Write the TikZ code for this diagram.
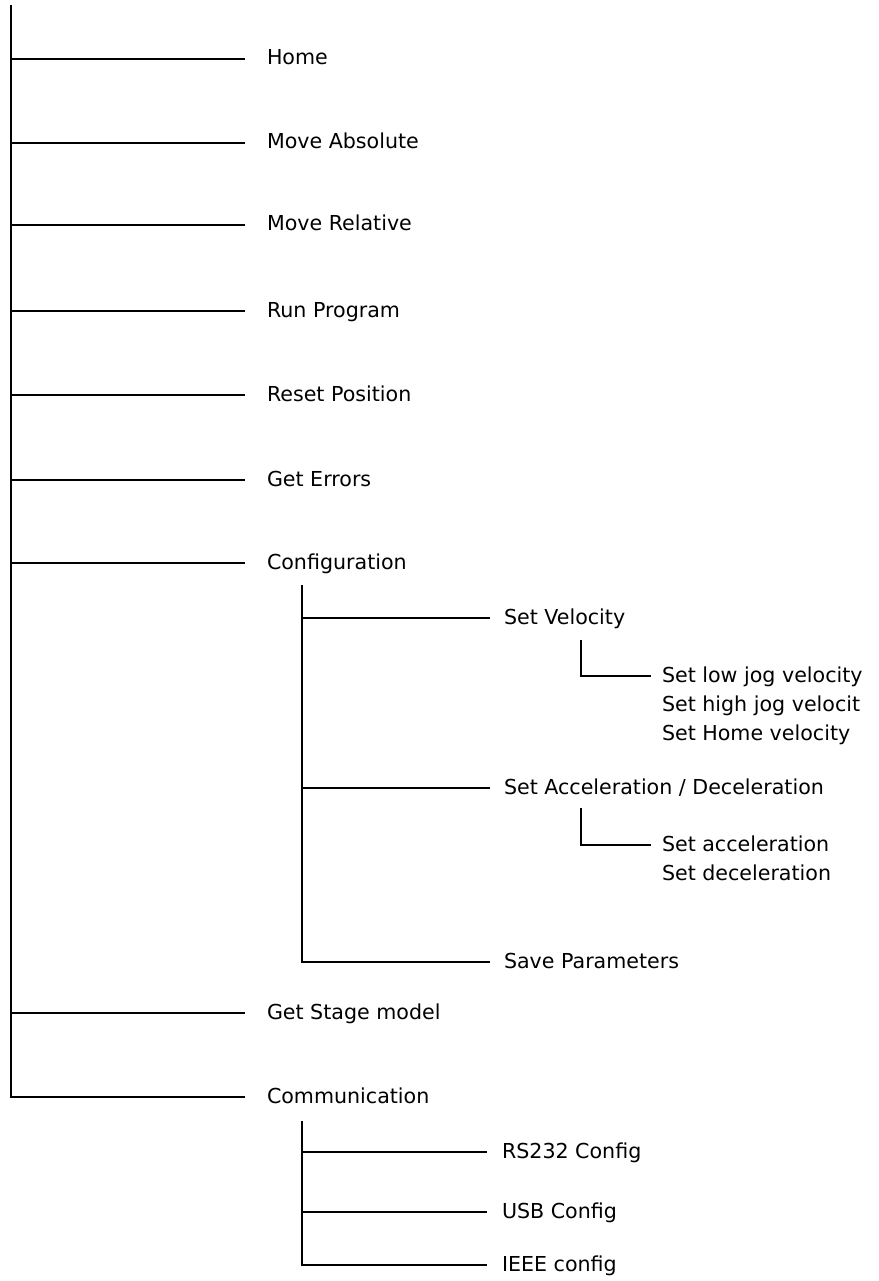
\documentclass[tikz,border=0pt]{standalone}
\usepackage{fontspec}
\setmainfont{DejaVu Sans}
\begin{document}
\begin{tikzpicture}[x=1pt,y=-1pt,
  conn/.style={line width=1.9pt,black},
  lbl/.style={anchor=west,inner sep=0pt,outer sep=0pt,text height=15pt,text depth=3pt,
    font=\fontsize{20.6pt}{28pt}\selectfont}]
\useasboundingbox (0,0) rectangle (878,1281);
\clip (0,0) rectangle (878,1281);
% trunk
\coordinate (T) at (11,5);
\node[lbl] (home) at (267,59) {Home};
\node[lbl] (mabs) at (267,143) {Move Absolute};
\node[lbl] (mrel) at (267,225) {Move Relative};
\node[lbl] (run) at (267,311) {Run Program};
\node[lbl] (reset) at (267,395) {Reset Position};
\node[lbl] (err) at (267,480) {Get Errors};
\node[lbl] (conf) at (267,563) {Configuration};
\node[lbl] (stage) at (267,1013) {Get Stage model};
\node[lbl] (comm) at (267,1097) {Communication};
\draw[conn] (T) -- (T |- comm.west) -- ([xshift=-22pt]comm.west);
\foreach \n in {home,mabs,mrel,run,reset,err,conf,stage}
  \draw[conn] (T |- \n.west) -- ([xshift=-22pt]\n.west);
% configuration subtree
\coordinate (C) at (302,585);
\node[lbl] (setvel) at (504,618) {Set Velocity};
\node[lbl] (setacc) at (504,788) {Set Acceleration / Deceleration};
\node[lbl] (save) at (504,962) {Save Parameters};
\draw[conn] (C) -- (C |- save.west) -- ([xshift=-14pt]save.west);
\draw[conn] (C |- setvel.west) -- ([xshift=-14pt]setvel.west);
\draw[conn] (C |- setacc.west) -- ([xshift=-14pt]setacc.west);
% velocity subtree
\coordinate (V) at (581,640);
\node[lbl] (lowjog) at (662,676) {Set low jog velocity};
\node[lbl] (highjog) at (662,705) {Set high jog velocit};
\node[lbl] (homevel) at (662,734) {Set Home velocity};
\draw[conn] (V) -- (V |- lowjog.west) -- ([xshift=-11pt]lowjog.west);
% acceleration subtree
\coordinate (A) at (581,808);
\node[lbl] (acc) at (662,845) {Set acceleration};
\node[lbl] (dec) at (662,874) {Set deceleration};
\draw[conn] (A) -- (A |- acc.west) -- ([xshift=-11pt]acc.west);
% communication subtree
\coordinate (M) at (302,1121);
\node[lbl] (rs) at (502,1152) {RS232 Config};
\node[lbl] (usb) at (502,1212) {USB Config};
\node[lbl] (ieee) at (502,1265) {IEEE config};
\draw[conn] (M) -- (M |- ieee.west) -- ([xshift=-15pt]ieee.west);
\draw[conn] (M |- rs.west) -- ([xshift=-15pt]rs.west);
\draw[conn] (M |- usb.west) -- ([xshift=-15pt]usb.west);
\end{tikzpicture}
\end{document}
